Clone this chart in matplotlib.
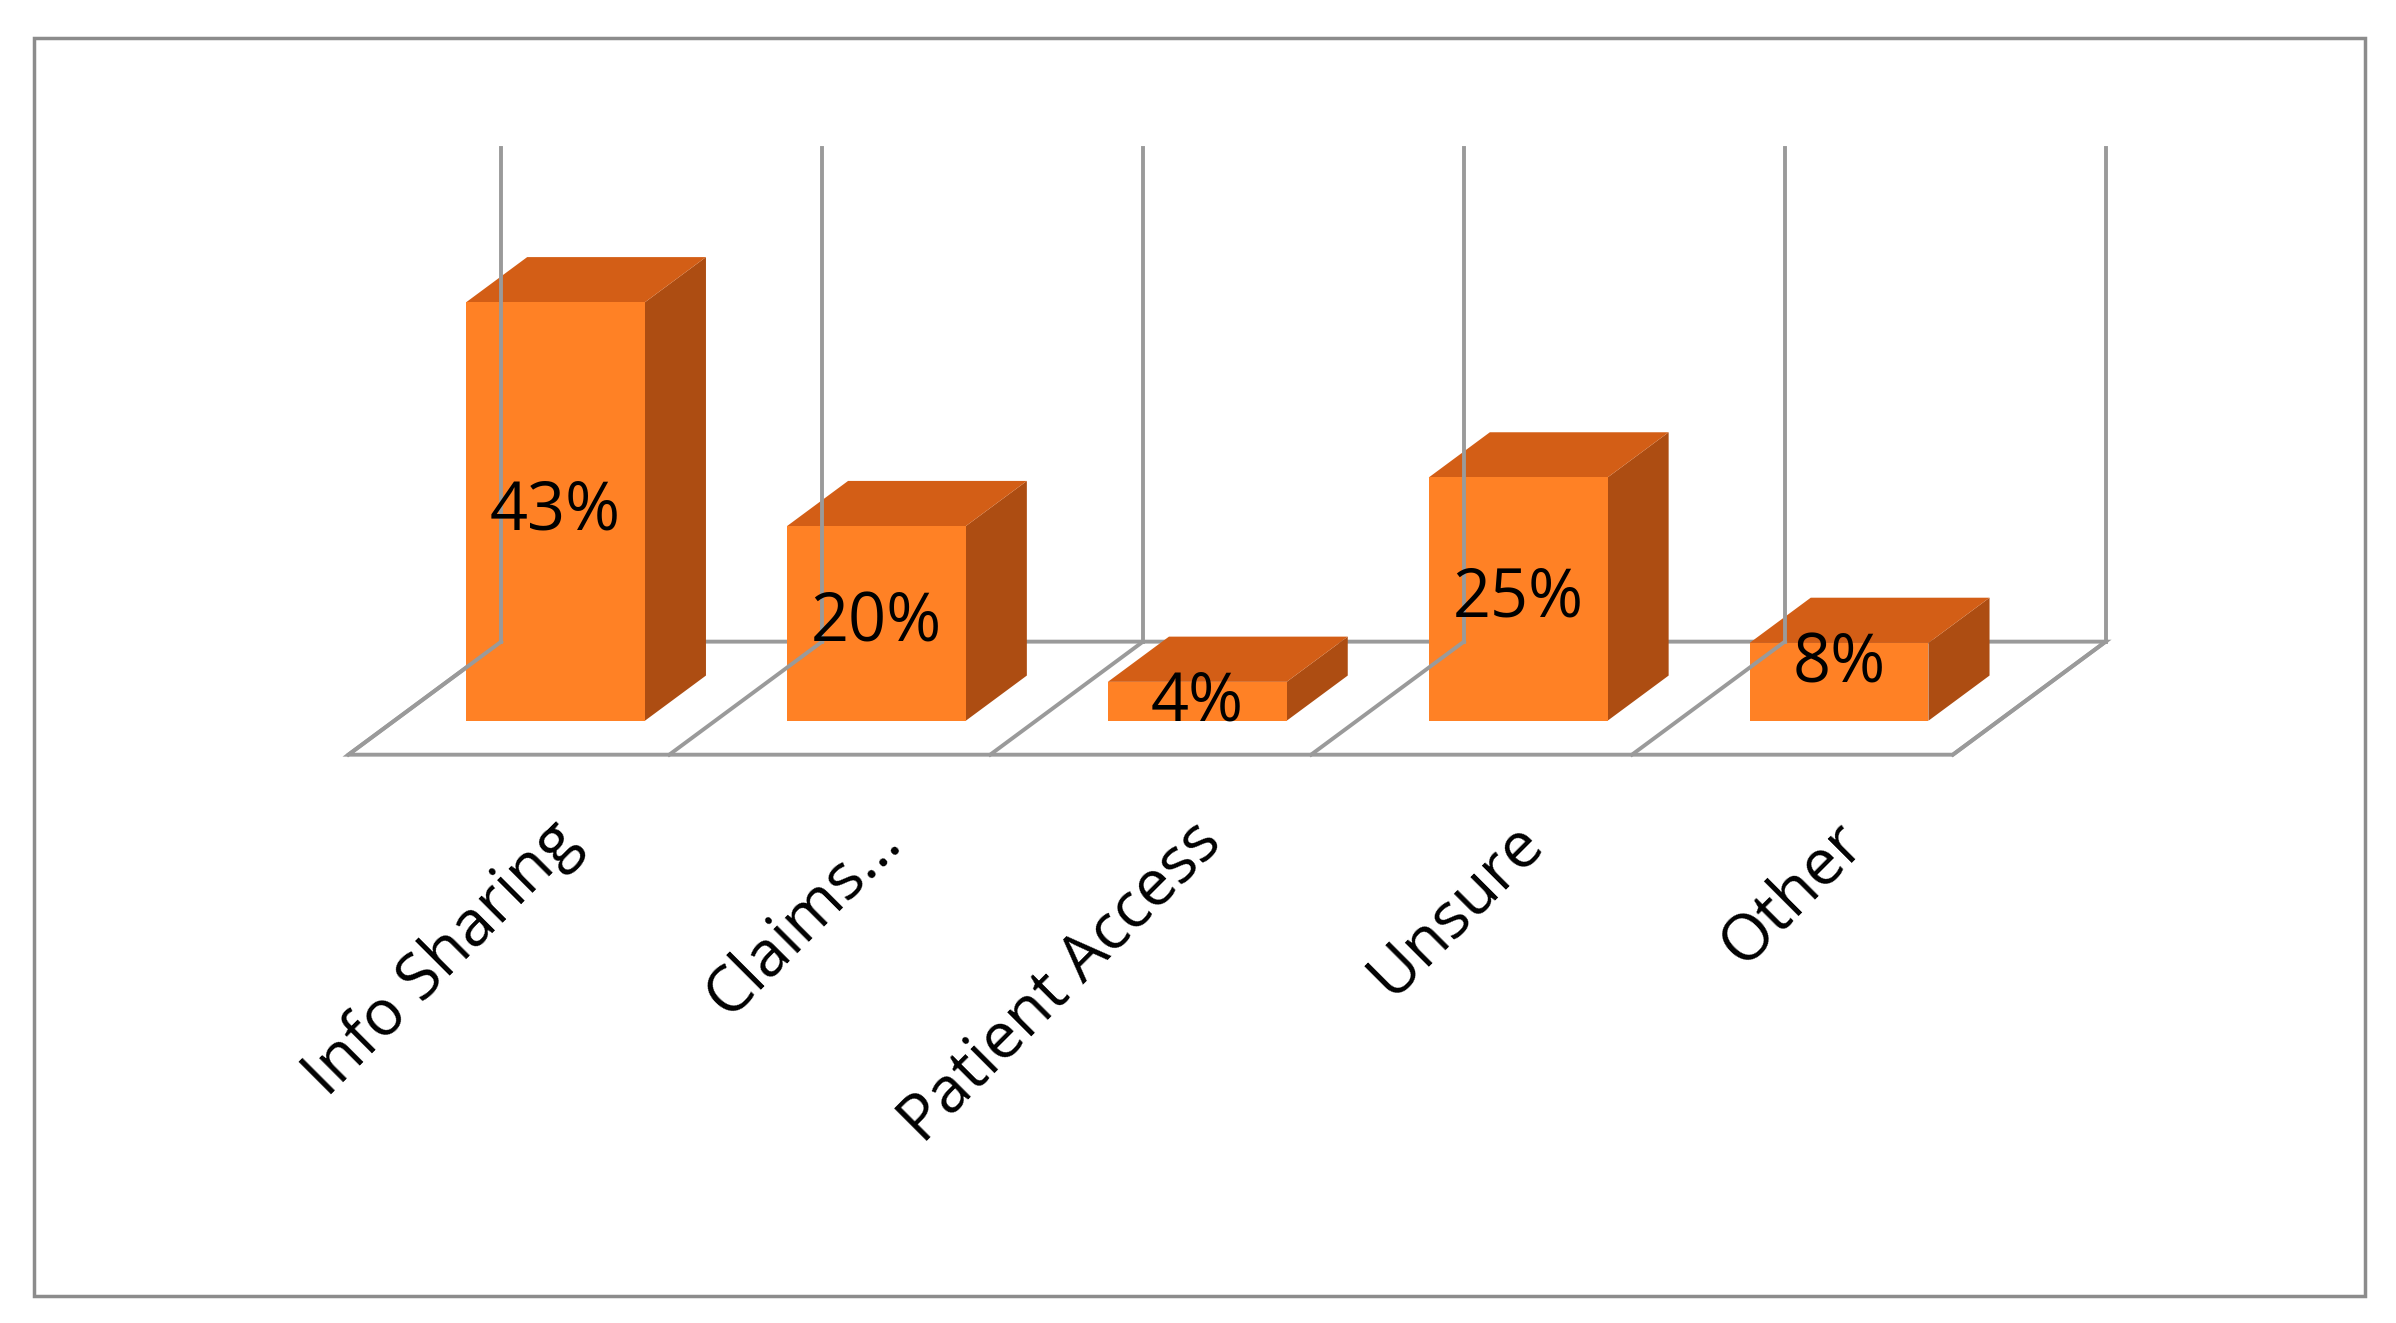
import matplotlib
matplotlib.use("Agg")
import matplotlib.pyplot as plt
from matplotlib.patches import Polygon, Rectangle

categories = ["Info Sharing", "Claims…", "Patient Access", "Unsure", "Other"]
values = [43, 20, 4, 25, 8]
labels = ["43%", "20%", "4%", "25%", "8%"]

W, H = 1568, 866
fig = plt.figure(figsize=(23.96, 13.23), dpi=100)
ax = fig.add_axes([0, 0, 1, 1])
ax.set_xlim(0, W); ax.set_ylim(H, 0); ax.axis("off")

x0, y0 = 228, 494        # front-left floor corner
cw = 210                 # category width
ddx, ddy = 100, -74      # full depth offset
ppv = 6.37               # pixels per percent
wall_top = 97
gray = "#9a9a9a"
n = len(categories)

def P(x, depth, v=0):
    # x in pixels from floor front-left, depth in 0..1, v in percent
    return (x0 + x + ddx * depth, y0 + ddy * depth - v * ppv)

ax.add_patch(Rectangle((22, 25), 1526, 823, fill=False, ec="#8c8c8c", lw=2.5))

# floor
fx = [P(0, 0), P(n * cw, 0), P(n * cw, 1), P(0, 1)]
ax.add_patch(Polygon(fx, closed=True, fc="white", ec=gray, lw=2.8))
for k in range(n + 1):
    a, b = P(k * cw, 0), P(k * cw, 1)
    ax.plot([a[0], b[0]], [a[1], b[1]], color=gray, lw=2.8)
    top = (b[0], wall_top)
    ax.plot([b[0], top[0]], [b[1], top[1]], color=gray, lw=2.8)

front_c, top_c, side_c = "#FF8125", "#D35E16", "#AD4D12"
bw = 117
d0, d1 = 0.30, 0.70
for i, (v, lab, cat) in enumerate(zip(values, labels, categories)):
    xl = i * cw + 47
    xr = xl + bw
    # side
    ax.add_patch(Polygon([P(xr, d0), P(xr, d1), P(xr, d1, v), P(xr, d0, v)], fc=side_c, ec="none"))
    # top
    ax.add_patch(Polygon([P(xl, d0, v), P(xr, d0, v), P(xr, d1, v), P(xl, d1, v)], fc=top_c, ec="none"))
    # front
    ax.add_patch(Polygon([P(xl, d0), P(xr, d0), P(xr, d0, v), P(xl, d0, v)], fc=front_c, ec="none"))
    cx, by = P((xl + xr) / 2, d0)
    ty = by - v * ppv / 2 if v > 12 else by - v * ppv - 0 + 14
    ax.text(cx, ty, lab, ha="center", va="center", fontsize=48, family="Open Sans")
    lx, ly = P(i * cw + cw / 2 + 25, 0)
    ax.text(lx, 530, cat, ha="right", va="top", rotation=45, rotation_mode="anchor",
            fontsize=46, family="Open Sans")

fig.savefig("out.png", dpi=100)
